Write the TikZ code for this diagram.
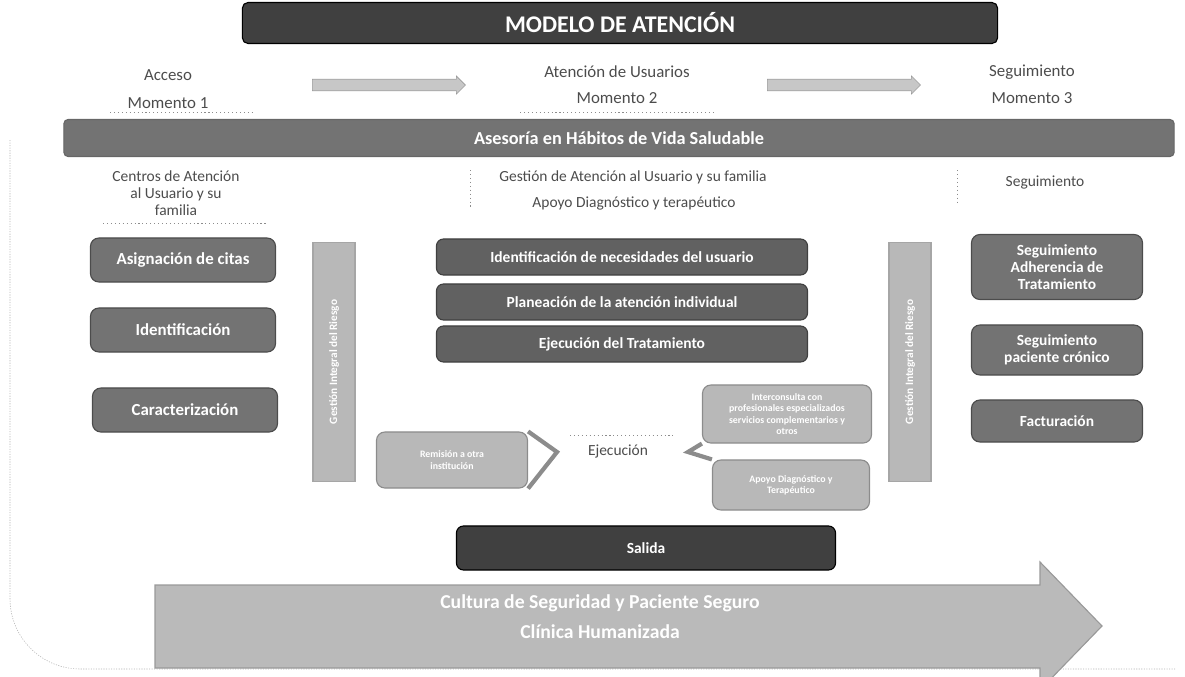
\documentclass[tikz,border=0pt]{standalone}
\usepackage{fontspec}
\setmainfont{Carlito}
\usetikzlibrary{shapes.arrows}
\colorlet{mydark}{black!75}
\colorlet{mymid}{black!55}
\colorlet{mylight}{black!28}
\colorlet{mytext}{black!70}
\tikzset{
    every path/.style={thick},
    head/.style={rectangle, rounded corners=4pt, fill=mydark, draw=black, text=white, minimum width=18.875cm, minimum height=1.025cm, font=\fontsize{17}{19}\selectfont\bfseries},
    band/.style={rectangle, rounded corners=3pt, fill=mymid, draw=black!60, text=white, minimum width=27.75cm, minimum height=0.925cm, font=\fontsize{13}{15}\selectfont\bfseries},
    lbl/.style={text=mytext, align=center, font=\fontsize{12}{14}\selectfont},
    hdr/.style={text=mytext, align=center, font=\fontsize{11}{12}\selectfont},
    lbox/.style={rectangle, rounded corners=6pt, fill=mymid, draw=black!70, text=white, align=center, minimum width=4.625cm, minimum height=1.1cm, font=\fontsize{12}{13}\selectfont\bfseries},
    cbox/.style={rectangle, rounded corners=5pt, fill=black!62, draw=black!75, text=white, align=center, minimum width=9.275cm, minimum height=0.9cm, font=\fontsize{11}{13}\selectfont\bfseries},
    rbox/.style={rectangle, rounded corners=6pt, fill=mymid, draw=black!70, text=white, align=center, minimum width=4.275cm, font=\fontsize{11}{12}\selectfont\bfseries},
    sbox/.style={rectangle, rounded corners=6pt, fill=mylight, draw=black!45, text=white, align=center, font=\fontsize{7}{8}\selectfont\bfseries},
    vbar/.style={rectangle, rotate=90, fill=mylight, draw=black!35, text=white, minimum width=5.975cm, minimum height=1.05cm, font=\fontsize{8}{9}\selectfont\bfseries},
    tarrow/.style={single arrow, fill=black!22, draw=black!40, thin, minimum height=3.825cm, minimum width=0.45cm, single arrow head extend=2pt},
    chev/.style={draw=black!45, line width=3pt, line join=miter},
    dots/.style={dotted, thin, black!45},
    bigarrow/.style={fill=black!27, draw=black!40},
    big/.style={text=white, font=\fontsize{14}{16}\selectfont\bfseries},
    frame/.style={densely dotted, thin, black!30, rounded corners=50pt}
}
\begin{document}
\begin{tikzpicture}[x=0.025cm, y=-0.025cm]
\useasboundingbox (0,0) rectangle (1185,677);
% frame
\draw[frame] (10,140) -- (10,669) -- (1175,669);

\node[head] at (620,23) (title) {MODELO DE ATENCIÓN};

% momentos
\node[lbl] at (168,75) (m1a) {Acceso};
\node[lbl] at (168,103) (m1b) {Momento 1};
\node[lbl] at (617,72) (m2a) {Atención de Usuarios};
\node[lbl] at (617,98) (m2b) {Momento 2};
\node[lbl] at (1032,72) (m3a) {Seguimiento};
\node[lbl] at (1032,98) (m3b) {Momento 3};
\node[tarrow] at (386,85) (ar1) {};
\node[tarrow] at (841,85) (ar2) {};
\draw[dots] (110,112) -- (253,112);
\draw[dots] (520,112) -- (713,112);

\node[band] at (619,138) (habitos) {Asesoría en Hábitos de Vida Saludable};

% encabezados
\node[hdr] at (176,193) (h1) {Centros de Atención\\al Usuario y su\\familia};
\node[hdr] at (633,177) (h2) {Gestión de Atención al Usuario y su familia};
\node[hdr] at (634,203) (h3) {Apoyo Diagnóstico y terapéutico};
\node[hdr] at (1045,183) (h4) {Seguimiento};
\draw[dots] (103,223) -- (267,223);
\draw[dots] (470,170) -- (470,207);
\draw[dots] (957,170) -- (957,205);

% acceso
\node[lbox] at (183,260) (citas) {Asignación de citas};
\node[lbox] at (183,330) (ident) {Identificación};
\node[lbox] at (185,410) (carac) {Caracterización};

\node[vbar] at (334,362) (riesgo1) {Gestión Integral del Riesgo};
\node[vbar] at (910,362) (riesgo2) {Gestión Integral del Riesgo};

% atencion
\node[cbox] at (622,257) (necesid) {Identificación de necesidades del usuario};
\node[cbox] at (622,302) (planea) {Planeación de la atención individual};
\node[cbox] at (622,344) (ejectra) {Ejecución del Tratamiento};

\node[sbox, minimum width=3.775cm, minimum height=1.4cm] at (452,460) (remis) {Remisión a otra\\institución};
\node[hdr] at (618,452) (ejec) {Ejecución};
\draw[dots] (570,435) -- (673,435);
\node[sbox, minimum width=4.225cm, minimum height=1.45cm] at (787,414) (inter) {Interconsulta con\\profesionales especializados\\servicios complementarios y\\otros};
\node[sbox, minimum width=3.925cm, minimum height=1.25cm] at (791,485) (apoyo) {Apoyo Diagnóstico y\\Terapéutico};
\coordinate (ltip) at (557,452);
\coordinate (rtip) at (688,452);
\draw[chev] (remis.north east) -- (ltip) -- (remis.south east);
\draw[chev] (inter.south west) -- (rtip) -- (apoyo.north west);

% seguimiento
\node[rbox, minimum height=1.625cm] at (1057,267) (adher) {Seguimiento\\Adherencia de\\Tratamiento};
\node[rbox, minimum height=1.25cm] at (1057,350) (cronico) {Seguimiento\\paciente crónico};
\node[rbox, minimum height=1.05cm] at (1057,421) (factura) {Facturación};

\node[cbox, fill=mydark, draw=black, minimum width=9.475cm, minimum height=1.1cm] at (646,548) (salida) {Salida};

% flecha cultura
\draw[bigarrow] (155,585) -- (1040,585) -- (1040,562) -- (1102,626)
    -- (1040,690) -- (1040,668) -- (155,668) -- cycle;
\node[big] at (600,603) (cul1) {Cultura de Seguridad y Paciente Seguro};
\node[big] at (600,632) (cul2) {Clínica Humanizada};
\end{tikzpicture}
\end{document}
